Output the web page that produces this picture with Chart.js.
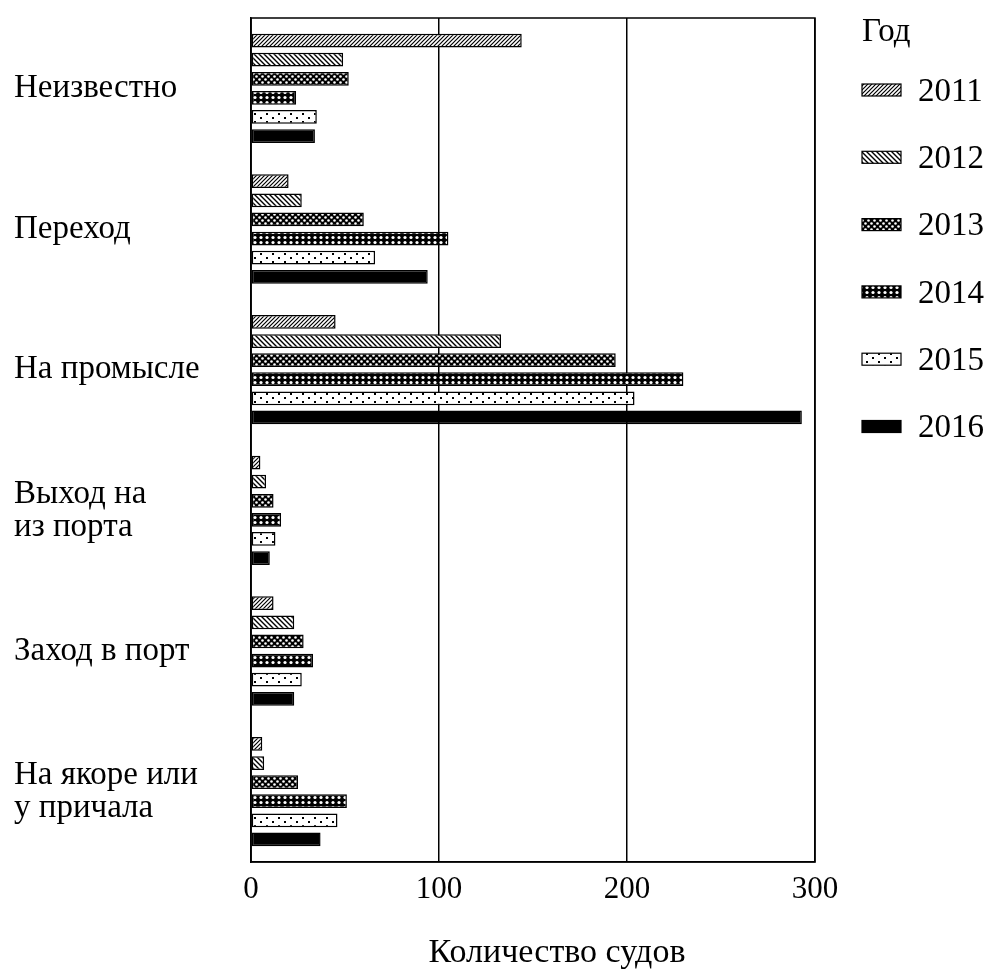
<!DOCTYPE html>
<html>
<head>
<meta charset="utf-8">
<script src="https://cdn.jsdelivr.net/npm/chart.js@4/dist/chart.umd.min.js"></script>
<style>
  html, body { margin: 0; padding: 0; background: #fff; }
  canvas { display: block; }
</style>
</head>
<body>
<canvas id="c" width="991" height="969"></canvas>
<script>
// Vessel counts by navigational status, per year
const categories = [
  'Неизвестно',
  'Переход',
  'На промысле',
  ['Выход на', 'из порта'],
  'Заход в порт',
  ['На якоре или', 'у причала']
];
const years = ['2011', '2012', '2013', '2014', '2015', '2016'];
const v2011 = [144, 20, 45, 5, 12, 6];
const v2012 = [49, 27, 133, 8, 23, 7];
const v2013 = [52, 60, 194, 12, 28, 25];
const v2014 = [24, 105, 230, 16, 33, 51];
const v2015 = [35, 66, 204, 13, 27, 46];
const v2016 = [34, 94, 293, 10, 23, 37];
const xTicks = [0, 100, 200, 300];
const xTitle = 'Количество судов';
const legendTitle = 'Год';

const FONT = '"Liberation Serif", "Times New Roman", serif';

// Monochrome fill patterns, one per year
function tile(w, h, draw) {
  const c = document.createElement('canvas');
  c.width = w; c.height = h;
  const g = c.getContext('2d');
  draw(g, w, h);
  return g.createPattern(c, 'repeat');
}
const patForward = tile(4, 4, (g) => {
  g.fillStyle = '#fff'; g.fillRect(0, 0, 4, 4);
  g.strokeStyle = '#000'; g.lineWidth = 1.2;
  g.beginPath();
  g.moveTo(-1, 5); g.lineTo(5, -1);
  g.moveTo(-1, 1); g.lineTo(1, -1);
  g.moveTo(3, 5); g.lineTo(5, 3);
  g.stroke();
});
const patBack = tile(5, 5, (g) => {
  g.fillStyle = '#fff'; g.fillRect(0, 0, 5, 5);
  g.strokeStyle = '#000'; g.lineWidth = 1.4;
  g.beginPath();
  g.moveTo(-1, -1); g.lineTo(6, 6);
  g.moveTo(-1, 4); g.lineTo(1, 6);
  g.moveTo(4, -1); g.lineTo(6, 1);
  g.stroke();
});
const patDiamond = tile(6, 6, (g) => {
  g.fillStyle = '#000'; g.fillRect(0, 0, 6, 6);
  g.fillStyle = '#fff';
  g.beginPath(); g.arc(1.5, 1.5, 1.3, 0, Math.PI * 2); g.fill();
  g.beginPath(); g.arc(4.5, 4.5, 1.3, 0, Math.PI * 2); g.fill();
});
const patCircles = tile(6, 5, (g) => {
  g.fillStyle = '#000'; g.fillRect(0, 0, 6, 5);
  g.fillStyle = '#fff';
  g.beginPath(); g.arc(3, 2.5, 1.6, 0, Math.PI * 2); g.fill();
});
const patDots = tile(12, 8, (g) => {
  g.fillStyle = '#fff'; g.fillRect(0, 0, 12, 8);
  g.fillStyle = '#000';
  g.fillRect(2, 1, 2, 2);
  g.fillRect(8, 5, 2, 2);
});
const fills = [patForward, patBack, patDiamond, patCircles, patDots, '#000'];
const seriesValues = [v2011, v2012, v2013, v2014, v2015, v2016];

const datasets = years.map((y, i) => ({
  label: y,
  data: seriesValues[i],
  backgroundColor: fills[i],
  borderColor: '#000',
  borderWidth: 1.5,
  borderSkipped: false,
  barPercentage: 0.72,
  categoryPercentage: 0.815
}));

// Frame around the plot area (top edge is not drawn by the axes)
const frame = {
  id: 'frame',
  afterDatasetsDraw(chart) {
    const { ctx, chartArea: a } = chart;
    ctx.save();
    ctx.strokeStyle = '#000';
    ctx.lineWidth = 1.5;
    ctx.strokeRect(a.left, a.top, a.right - a.left, a.bottom - a.top);
    ctx.restore();
  }
};

// Value-axis caption under the tick labels, set a little right of centre
const axisCaption = {
  id: 'axisCaption',
  afterDraw(chart) {
    const { ctx, chartArea: a } = chart;
    ctx.save();
    ctx.fillStyle = '#000';
    ctx.font = '34px ' + FONT;
    ctx.textAlign = 'center';
    ctx.textBaseline = 'middle';
    ctx.fillText(xTitle, (a.left + a.right) / 2 + 24, 953);
    ctx.restore();
  }
};

// Vertical legend with title, to the right of the plot
const sideLegend = {
  id: 'sideLegend',
  afterDraw(chart) {
    const ctx = chart.ctx;
    ctx.save();
    ctx.fillStyle = '#000';
    ctx.font = '33px ' + FONT;
    ctx.textBaseline = 'middle';
    ctx.textAlign = 'left';
    ctx.fillText(legendTitle, 862, 32);
    chart.data.datasets.forEach((ds, i) => {
      const y = 90 + i * 67.3;
      ctx.fillStyle = ds.backgroundColor;
      ctx.fillRect(862, y - 6, 39, 12);
      ctx.strokeStyle = '#000';
      ctx.lineWidth = 1.2;
      ctx.strokeRect(862, y - 6, 39, 12);
      ctx.fillStyle = '#000';
      ctx.fillText(ds.label, 918, y + 2);
    });
    ctx.restore();
  }
};

new Chart(document.getElementById('c'), {
  type: 'bar',
  data: { labels: categories, datasets },
  options: {
    indexAxis: 'y',
    responsive: false,
    devicePixelRatio: 1,
    animation: false,
    layout: { padding: { left: 14, right: 176, top: 18, bottom: 0 } },
    plugins: {
      legend: { display: false },
      tooltip: { enabled: false }
    },
    scales: {
      x: {
        min: 0,
        max: 300,
        afterBuildTicks: (scale) => { scale.ticks = xTicks.map(v => ({ value: v })); },
        afterFit: (scale) => { scale.height = 107; },
        grid: { color: '#000', lineWidth: 1.5, drawTicks: false },
        border: { display: true, color: '#000', width: 1.5 },
        ticks: {
          color: '#000',
          padding: 9,
          maxRotation: 0,
          font: { family: FONT, size: 31, lineHeight: 1.2 }
        },
        title: { display: false }
      },
      y: {
        afterFit: (scale) => {
          scale.width = 237;
          scale.paddingTop = 0;
          scale.paddingBottom = 0;
        },
        grid: { display: false, drawTicks: false },
        border: { display: true, color: '#000', width: 1.5 },
        ticks: {
          color: '#000',
          crossAlign: 'far',
          padding: 0,
          font: { family: FONT, size: 33, lineHeight: 1.0 }
        }
      }
    }
  },
  plugins: [frame, axisCaption, sideLegend]
});
</script>
</body>
</html>
